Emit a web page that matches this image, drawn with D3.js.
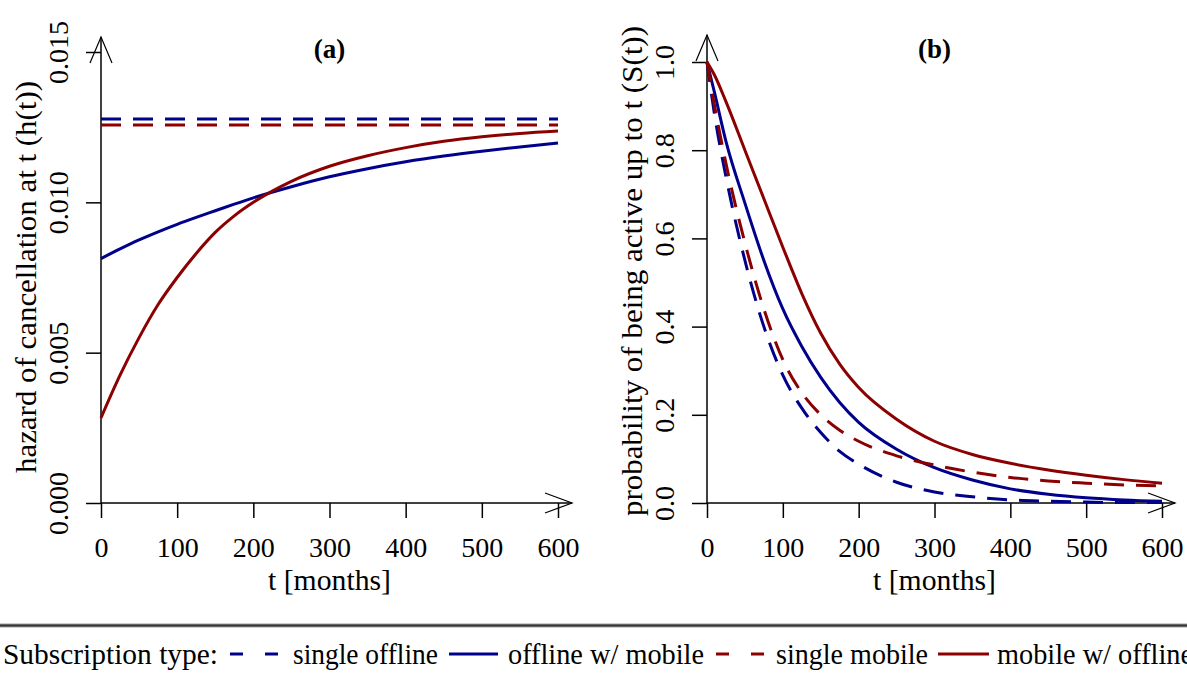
<!DOCTYPE html>
<html>
<head>
<meta charset="utf-8">
<script src="https://cdn.jsdelivr.net/npm/d3@7"></script>
<style>
  body { margin: 0; background: #fff; }
  svg text { font-family: "Liberation Serif", "Times New Roman", serif !important; fill: #000; }
</style>
</head>
<body>
<svg id="chart" width="1187" height="677" font-family="Liberation Serif, serif"></svg>
<script>
/* ── data ────────────────────────────────────────────────── */

const tTicks    = [0, 100, 200, 300, 400, 500, 600];
const hazTicks  = [0, 0.005, 0.010, 0.015];
const survTicks = [0, 0.2, 0.4, 0.6, 0.8, 1.0];

const seriesNames = ["single offline", "offline w/ mobile", "single mobile", "mobile w/ offline"];

// panel (a): hazard of cancellation h(t)
const hazFlatT            = [0, 600];
const hazSingleOffline    = [0.01277, 0.01277];
const hazSingleMobile     = [0.01257, 0.01257];
const hazT                = [0, 25, 50, 75, 100, 125, 150, 175, 200, 250, 300, 350, 400, 450, 500, 550, 600];
const hazOfflineMobile    = [0.00813, 0.00845, 0.00875, 0.00902, 0.00927, 0.00950, 0.00972, 0.00994, 0.01015,
                             0.01052, 0.01085, 0.01112, 0.01135, 0.01154, 0.01170, 0.01184, 0.01197];
const hazMobileOffline    = [0.00283, 0.00425, 0.00550, 0.00660, 0.00750, 0.00830, 0.00900, 0.00955, 0.01000,
                             0.01070, 0.01120, 0.01155, 0.01182, 0.01203, 0.01218, 0.01229, 0.01237];

// panel (b): probability of being active S(t)
const survT               = [0, 10, 25, 50, 75, 100, 125, 150, 175, 200, 250, 300, 350, 400, 450, 500, 550, 600];
const survSingleOffline   = [1.0, 0.88, 0.74, 0.55, 0.40, 0.29, 0.215, 0.16, 0.117, 0.088, 0.047, 0.025,
                             0.014, 0.007, 0.004, 0.002, 0.001, 0.001];
const survOfflineMobile   = [1.0, 0.93, 0.82, 0.68, 0.55, 0.44, 0.355, 0.285, 0.228, 0.183, 0.122, 0.080,
                             0.052, 0.032, 0.020, 0.012, 0.007, 0.004];
const survSingleMobile    = [1.0, 0.90, 0.77, 0.59, 0.44, 0.325, 0.25, 0.20, 0.165, 0.14, 0.107, 0.086,
                             0.070, 0.058, 0.050, 0.045, 0.041, 0.039];
const survMobileOffline   = [1.0, 0.97, 0.91, 0.80, 0.69, 0.58, 0.475, 0.385, 0.315, 0.262, 0.19, 0.14,
                             0.11, 0.09, 0.075, 0.063, 0.053, 0.045];

/* ── styles ──────────────────────────────────────────────── */

const FONT = "'Liberation Serif', 'Times New Roman', serif";
const BLUE = "#00008b", RED = "#8b0000";
const seriesStyle = [
  { color: BLUE, dash: "20,12" },
  { color: BLUE, dash: null },
  { color: RED,  dash: "20,12" },
  { color: RED,  dash: null },
];

const svg = d3.select("#chart");
const zip = (xs, ys) => xs.map((x, i) => [x, ys[i]]);

/* ── one panel ───────────────────────────────────────────── */

function drawPanel(p) {
  const x = d3.scaleLinear().domain([0, 600]).range(p.xRange);
  const y = d3.scaleLinear().domain(p.yDomain).range(p.yRange);
  const g = svg.append("g");
  const x0 = x(0), y0 = y(p.yDomain[0]);

  // x axis
  const xa = g.append("g")
    .attr("transform", `translate(0,${y0})`)
    .call(d3.axisBottom(x).tickValues(tTicks).tickSize(15).tickSizeOuter(0).tickFormat(d3.format("d")));
  xa.attr("font-family", FONT);
  xa.select(".domain").remove();
  xa.selectAll(".tick line").attr("stroke", "#000").attr("stroke-width", 1.5);
  xa.selectAll(".tick text").attr("y", 54).attr("dy", 0)
    .attr("font-size", 28).attr("fill", "#000");

  // y axis
  const ya = g.append("g")
    .attr("transform", `translate(${x0},0)`)
    .call(d3.axisLeft(y).tickValues(p.yTicks).tickSize(15).tickSizeOuter(0).tickFormat(p.yFormat));
  ya.attr("font-family", FONT);
  ya.select(".domain").remove();
  ya.selectAll(".tick line").attr("stroke", "#000").attr("stroke-width", 1.5);
  ya.selectAll(".tick text")
    .attr("transform", "rotate(-90)")
    .attr("x", 0).attr("y", -33).attr("dy", 0)
    .attr("text-anchor", "middle")
    .attr("font-size", 28).attr("fill", "#000");

  // axis lines with open arrow heads
  const xTip = x(600) + p.xTipPad, yTip = y(p.yDomain[1]) - p.yTipPad;
  const ax = g.append("g").attr("stroke", "#000").attr("stroke-width", 1.5).attr("fill", "none");
  ax.append("line").attr("x1", x0).attr("y1", y0).attr("x2", xTip).attr("y2", y0);
  ax.append("line").attr("x1", x0).attr("y1", y0).attr("x2", x0).attr("y2", yTip);
  ax.append("path").attr("stroke-width", 1.2)
    .attr("d", `M${xTip - 27},${y0 - 10}L${xTip},${y0}L${xTip - 27},${y0 + 10}`);
  ax.append("path").attr("stroke-width", 1.2)
    .attr("d", `M${x0 - 11},${yTip + 26}L${x0},${yTip}L${x0 + 11},${yTip + 26}`);

  // curves
  const line = d3.line().x(d => x(d[0])).y(d => y(d[1])).curve(d3.curveMonotoneX);
  p.series.forEach(s => {
    const st = seriesStyle[s.style];
    g.append("path")
      .datum(zip(s.t, s.v))
      .attr("d", line)
      .attr("fill", "none")
      .attr("stroke", st.color)
      .attr("stroke-width", 3)
      .attr("stroke-dasharray", st.dash);
  });

  // titles and labels
  g.append("text")
    .attr("x", (x(0) + x(600)) / 2).attr("y", 58)
    .attr("text-anchor", "middle").attr("font-weight", "bold").attr("font-size", 27)
    .text(p.title);

  g.append("text")
    .attr("x", (x(0) + x(600)) / 2).attr("y", 590)
    .attr("text-anchor", "middle").attr("font-size", 29)
    .attr("textLength", 123).attr("lengthAdjust", "spacingAndGlyphs")
    .text("t [months]");

  g.append("text")
    .attr("transform", `translate(${x0 - 65},${p.yLabelCenter}) rotate(-90)`)
    .attr("text-anchor", "middle").attr("font-size", 29)
    .attr("textLength", p.yLabelLength).attr("lengthAdjust", "spacingAndGlyphs")
    .text(p.yLabel);
}

drawPanel({
  title: "(a)",
  xRange: [101, 558], yRange: [503, 52], yDomain: [0, 0.015],
  yTicks: hazTicks, yFormat: d3.format(".3f"),
  xTipPad: 14, yTipPad: 15,
  yLabel: "hazard of cancellation at t (h(t))", yLabelCenter: 277, yLabelLength: 392,
  series: [
    { t: hazFlatT, v: hazSingleOffline, style: 0 },
    { t: hazT,     v: hazOfflineMobile, style: 1 },
    { t: hazFlatT, v: hazSingleMobile,  style: 2 },
    { t: hazT,     v: hazMobileOffline, style: 3 },
  ],
});

drawPanel({
  title: "(b)",
  xRange: [707, 1162], yRange: [503, 62], yDomain: [0, 1],
  yTicks: survTicks, yFormat: d3.format(".1f"),
  xTipPad: 13, yTipPad: 27,
  yLabel: "probability of being active up to t (S(t))", yLabelCenter: 271, yLabelLength: 490,
  series: [
    { t: survT, v: survSingleOffline, style: 0 },
    { t: survT, v: survOfflineMobile, style: 1 },
    { t: survT, v: survSingleMobile,  style: 2 },
    { t: survT, v: survMobileOffline, style: 3 },
  ],
});

/* ── legend strip ────────────────────────────────────────── */

svg.append("line").attr("x1", 0).attr("x2", 1187).attr("y1", 625.5).attr("y2", 625.5)
  .attr("stroke", "#999").attr("stroke-width", 4);
svg.append("line").attr("x1", 0).attr("x2", 1187).attr("y1", 625.5).attr("y2", 625.5)
  .attr("stroke", "#333").attr("stroke-width", 2);

const legendY = 664;
svg.append("text").attr("x", 3).attr("y", legendY).attr("font-size", 29)
  .attr("textLength", 215).attr("lengthAdjust", "spacingAndGlyphs")
  .text("Subscription type:");

const legendLayout = [
  { x1: 230, x2: 278, tx: 293, tw: 145 },
  { x1: 449, x2: 498, tx: 508, tw: 196 },
  { x1: 716, x2: 764, tx: 776, tw: 152 },
  { x1: 938, x2: 989, tx: 997, tw: 196 },
];
seriesNames.forEach((name, i) => {
  const st = seriesStyle[i], L = legendLayout[i];
  svg.append("line")
    .attr("x1", L.x1).attr("x2", L.x2).attr("y1", 654).attr("y2", 654)
    .attr("stroke", st.color).attr("stroke-width", 3)
    .attr("stroke-dasharray", st.dash ? "13,22" : null);
  svg.append("text").attr("x", L.tx).attr("y", legendY).attr("font-size", 29)
    .attr("textLength", L.tw).attr("lengthAdjust", "spacingAndGlyphs")
    .text(name);
});

svg.selectAll("text").attr("font-family", FONT).style("font-family", FONT);
</script>
</body>
</html>
